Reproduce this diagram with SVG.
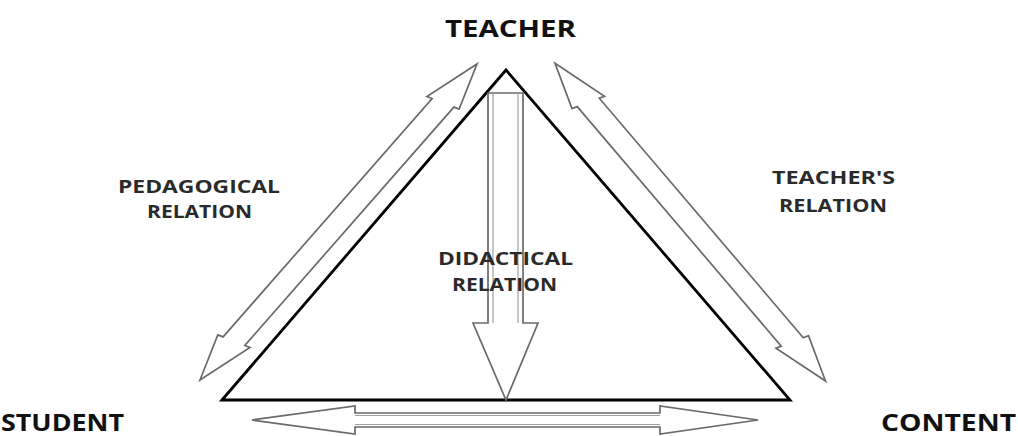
<svg xmlns="http://www.w3.org/2000/svg" width="1018" height="436" viewBox="0 0 1018 436">
<style>
.bg{fill:#fff}
.tri{fill:none;stroke:#000;stroke-width:2.8;stroke-linejoin:miter}
.arrow{fill:#fff;stroke:#6a6a6a;stroke-width:1.7;stroke-linejoin:miter}
.inner{fill:none;stroke:#a0a0a0;stroke-width:1.2}
.node{font-family:"Open Sans","Liberation Sans",sans-serif;font-weight:700;font-size:24px;fill:#111}
.lbl{font-family:"Open Sans","Liberation Sans",sans-serif;font-weight:700;font-size:18px;fill:#2a2a2a}
</style>
<rect class="bg" x="0" y="0" width="1018" height="436"/>
<g id="triangle">
<polygon class="tri" points="222,400 506,70 790,400"/>
</g>
<g id="connectors">
<g id="pedagogical-relation">
<polygon class="arrow" points="200,380 250,347.5 244.8,345.5 453.9,107.1 459.1,109.1 477,64 426.9,96.5 432.1,98.5 223.1,336.9 217.8,334.9"/>
</g>
<g id="teachers-relation">
<polygon class="arrow" points="555,63.3 604.5,96.2 599.3,98.2 803.3,337.7 808.5,335.7 825.5,381 776,348.1 781.2,346.1 577.2,106.6 572,108.6"/>
</g>
<g id="didactical-relation">
<polygon class="arrow" points="488,93 523,93 523,323 538,323 506,400 473,323 488,323"/>
<line class="inner" x1="493" y1="93" x2="493" y2="323"/>
<line class="inner" x1="518" y1="93" x2="518" y2="323"/>
</g>
<g id="student-content-relation">
<polygon class="arrow" points="252,420 355,406 355,413 660,413 660,406 758,420 660,434 660,427 355,427 355,434"/>
<line class="inner" x1="355" y1="415.5" x2="660" y2="415.5"/>
<line class="inner" x1="355" y1="424.5" x2="660" y2="424.5"/>
</g>
</g>
<g id="labels">
<text class="lbl" x="118" y="193" textLength="162" lengthAdjust="spacingAndGlyphs">PEDAGOGICAL</text>
<text class="lbl" x="147" y="218" textLength="105" lengthAdjust="spacingAndGlyphs">RELATION</text>
<text class="lbl" x="772" y="184" textLength="123" lengthAdjust="spacingAndGlyphs">TEACHER'S</text>
<text class="lbl" x="779" y="212" textLength="108" lengthAdjust="spacingAndGlyphs">RELATION</text>
<text class="lbl" x="438" y="265" textLength="135" lengthAdjust="spacingAndGlyphs">DIDACTICAL</text>
<text class="lbl" x="452" y="291" textLength="105" lengthAdjust="spacingAndGlyphs">RELATION</text>
</g>
<g id="teacher">
<text class="node" x="445" y="37" textLength="131" lengthAdjust="spacingAndGlyphs">TEACHER</text>
</g>
<g id="student">
<text class="node" x="1" y="431" textLength="123" lengthAdjust="spacingAndGlyphs">STUDENT</text>
</g>
<g id="content">
<text class="node" x="881" y="431" textLength="135" lengthAdjust="spacingAndGlyphs">CONTENT</text>
</g>
</svg>
